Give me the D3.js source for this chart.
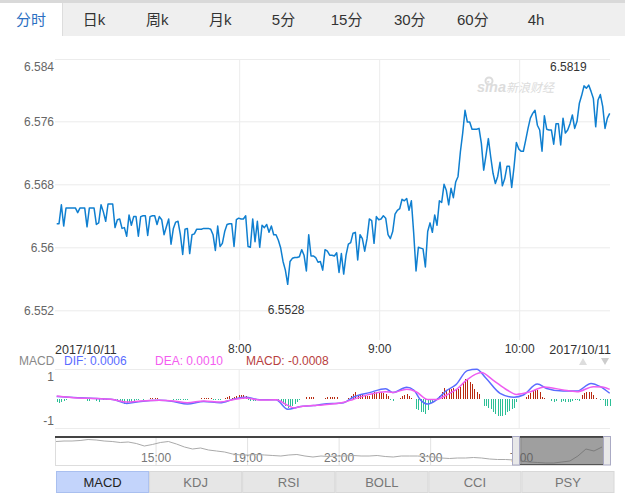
<!DOCTYPE html>
<html>
<head>
<meta charset="utf-8">
<script src="https://cdn.jsdelivr.net/npm/d3@7/dist/d3.min.js"></script>
<style>
  body { margin: 0; background: #fff; }
  svg { display: block; font-family: "Liberation Sans", "Noto Sans CJK SC", sans-serif; }
  .domain { display: none; }
</style>
</head>
<body>
<div id="chart"></div>
<script>
var tabs = ["分时", "日k", "周k", "月k", "5分", "15分", "30分", "60分", "4h"];
var indicators = ["MACD", "KDJ", "RSI", "BOLL", "CCI", "PSY"];

var priceTicks = [6.552, 6.56, 6.568, 6.576, 6.584];
var timeTicks = [78, 138, 198];
var timeLabels = ["8:00", "9:00", "10:00"];
var dateLabel = "2017/10/11";
var maxLabel = "6.5819";
var minLabel = "6.5528";

// one value per minute
var prices = [
  6.5630, 6.5630, 6.5654, 6.5627, 6.5650, 6.5650, 6.5650, 6.5650, 6.5650, 6.5644,
  6.5650, 6.5650, 6.5650, 6.5626, 6.5650, 6.5650, 6.5650, 6.5629, 6.5631, 6.5654,
  6.5645, 6.5633, 6.5655, 6.5655, 6.5655, 6.5625, 6.5635, 6.5636, 6.5624, 6.5625,
  6.5614, 6.5641, 6.5628, 6.5639, 6.5639, 6.5614, 6.5639, 6.5640, 6.5640, 6.5615,
  6.5639, 6.5640, 6.5640, 6.5629, 6.5639, 6.5635, 6.5616, 6.5626, 6.5636, 6.5604,
  6.5624, 6.5632, 6.5633, 6.5616, 6.5591, 6.5623, 6.5624, 6.5592, 6.5616, 6.5617,
  6.5623, 6.5623, 6.5623, 6.5624, 6.5624, 6.5624, 6.5623, 6.5616, 6.5596, 6.5627,
  6.5601, 6.5605, 6.5620, 6.5629, 6.5630, 6.5630, 6.5601, 6.5635, 6.5637, 6.5636,
  6.5636, 6.5640, 6.5601, 6.5600, 6.5636, 6.5607, 6.5633, 6.5600, 6.5628, 6.5625,
  6.5629, 6.5619, 6.5627, 6.5616, 6.5616, 6.5609, 6.5599, 6.5582, 6.5571, 6.5553,
  6.5582, 6.5586, 6.5587, 6.5587, 6.5588, 6.5597, 6.5590, 6.5570, 6.5616, 6.5589,
  6.5589, 6.5587, 6.5581, 6.5582, 6.5571, 6.5597, 6.5595, 6.5590, 6.5590, 6.5589,
  6.5593, 6.5568, 6.5592, 6.5566, 6.5590, 6.5604, 6.5606, 6.5618, 6.5619, 6.5584,
  6.5616, 6.5611, 6.5595, 6.5611, 6.5636, 6.5634, 6.5605, 6.5639, 6.5635, 6.5636,
  6.5640, 6.5637, 6.5616, 6.5611, 6.5620, 6.5642, 6.5647, 6.5649, 6.5661, 6.5659,
  6.5662, 6.5647, 6.5659, 6.5618, 6.5570, 6.5600, 6.5599, 6.5598, 6.5575, 6.5620,
  6.5631, 6.5619, 6.5641, 6.5628, 6.5659, 6.5657, 6.5680, 6.5672, 6.5654, 6.5675,
  6.5663, 6.5683, 6.5690, 6.5721, 6.5745, 6.5774, 6.5759, 6.5759, 6.5750, 6.5750,
  6.5750, 6.5751, 6.5732, 6.5698, 6.5717, 6.5738, 6.5715, 6.5694, 6.5681, 6.5690,
  6.5708, 6.5678, 6.5687, 6.5703, 6.5703, 6.5676, 6.5702, 6.5733, 6.5725, 6.5722,
  6.5722, 6.5736, 6.5751, 6.5764, 6.5770, 6.5774, 6.5755, 6.5749, 6.5722, 6.5767,
  6.5750, 6.5749, 6.5749, 6.5731, 6.5757, 6.5757, 6.5730, 6.5764, 6.5745, 6.5749,
  6.5757, 6.5768, 6.5751, 6.5760, 6.5783, 6.5793, 6.5805, 6.5802, 6.5806, 6.5798,
  6.5789, 6.5753, 6.5787, 6.5794, 6.5779, 6.5751, 6.5764, 6.5770
];

var macdBars = [
  -.14, -.17, -.12, -.11, -.05, 0, 0, 0, 0, 0, 0, 0, 0, -.08, -.08, -.01, 0, -.09, -.12, -.02,
  -.05, -.06, -.01, -.01, -.02, -.05, -.08, -.12, -.2, -.21, -.18, -.15, -.12, -.08,
  -.03, -.03, -.02, -.03, -.02, -.01, .03, .04, .03, .04, .02, .01, 0, -.01, -.01, -.02,
  -.05, -.05, -.04, -.05, -.05, -.04, -.03, -.01, 0, .01, .01, .02, .05, .06, .06, .06, .05,
  -.04, -.05, -.05, -.04, -.02, .05, .09, .14, .06, .09, .15, .17, .18, .17, .14,
  -.06, -.08, -.07, -.08, -.05, -.02, -.01, -.01, 0, 0, -.01, -.03, -.05,
  -.09, -.15, -.23, -.33, -.42, -.38, -.33, -.23, -.12, -.06, -.02, .01, .08, .09, .09, .07,
  .01, 0, .01, .01, .06, .08, .08, .07, .08, .07, .01, .01, -.01, .01, .03,
  .12, .21, .3, .18, .21, .24, .18, .12, .12, .21, .3, .3, .27, .3, .27, .21, .15,
  -.06, -.1, -.02, -.01, .06, .12, .18, .21, .12, .06, .01,
  -.45, -.52, -.58, -.61, -.67, -.48, -.24, -.15, -.06,
  .03, .15, .33, .48, .39, .45, .45, .48, .42, .45, .55, .76, .91, .88, .76, .67, .45, .33, .21,
  -.02, -.33, -.33, -.42, -.45, -.61, -.67, -.76, -.76, -.76, -.73, -.58, -.55, -.45, -.42, -.15,
  -.02, 0, .01, .09, .18, .27, .39, .45, .39, .33, .09, .06, .01, -.01,
  -.08, -.12, -.09, -.02, -.12, -.09, -.15, -.12, -.12, -.09, -.06, -.06, -.09,
  .18, .27, .3, .33, .3, .18, .05, -.01, -.03, -.06, -.3, -.33, -.3
];

var difMinutes = [0, 9, 17, 24, 30, 36, 44, 50, 56, 63, 70, 76, 81, 87, 94, 99, 104, 110, 114, 123, 127, 134, 141, 144, 150, 153, 156, 159, 163, 167, 171, 176, 180, 184, 190, 196, 200, 206, 210, 217, 223, 229, 233, 237];
var difValues = [.11, .06, .02, -.02, -.2, -.11, -.06, -.11, -.23, -.11, -.17, 0, .08, -.03, -.03, -.47, -.35, -.3, -.24, -.17, .08, .29, .47, .29, .53, .41, -.05, -.23, -.02, .38, .64, 1.29, 1.35, .94, .26, .08, .18, .68, .48, .36, .36, .71, .56, .26];

var deaMinutes = [0, 9, 17, 24, 30, 36, 44, 50, 56, 63, 70, 76, 81, 87, 94, 99, 102, 104, 110, 114, 123, 127, 134, 141, 144, 150, 154, 159, 163, 167, 171, 176, 182, 187, 193, 197, 203, 209, 217, 223, 230, 234, 237];
var deaValues = [.14, .05, .02, -.02, -.14, -.09, -.06, -.09, -.17, -.09, -.14, -.02, .05, -.05, -.03, -.29, -.41, -.35, -.3, -.27, -.15, -.02, .21, .33, .3, .44, .33, -.02, -.02, .18, .41, .89, 1.2, .86, .41, .21, .33, .55, .41, .33, .56, .55, .44];

var macdTicks = [1, -1];
var legendNames = ["MACD", "DIF: 0.0006", "DEA: 0.0010", "MACD: -0.0008"];

// overview strip, the whole session
var overview = [
  6.597, 6.598, 6.598, 6.599, 6.601, 6.600, 6.598, 6.597, 6.595, 6.596, 6.593, 6.588, 6.591, 6.595, 6.597, 6.592,
  6.586, 6.582, 6.584, 6.580, 6.578, 6.576, 6.572, 6.570, 6.570, 6.571, 6.570, 6.569, 6.568, 6.570, 6.571, 6.568,
  6.566, 6.568, 6.567, 6.568, 6.568, 6.569, 6.568, 6.568, 6.569, 6.567, 6.566, 6.568, 6.568, 6.568, 6.567, 6.566,
  6.564, 6.563, 6.564, 6.564, 6.565, 6.564, 6.562, 6.561, 6.561, 6.560, 6.558, 6.556, 6.555, 6.554, 6.554, 6.556,
  6.558, 6.568, 6.582, 6.578, 6.586
];
var overviewTickAt = [12.4, 23.8, 35.2, 46.6, 57.9];
var overviewLabels = ["15:00", "19:00", "23:00", "3:00", "7:00"];

var svg = d3.select("#chart").append("svg")
  .attr("width", 625)
  .attr("height", 497);

// tab bar
svg.append("rect").attr("width", 625).attr("height", 3).attr("fill", "#d9d9d9");
svg.append("rect").attr("y", 3).attr("width", 625).attr("height", 33).attr("fill", "#efefef");
svg.append("rect").attr("y", 3).attr("width", 62).attr("height", 33).attr("fill", "#fff");
svg.append("line").attr("x1", 62.5).attr("x2", 62.5).attr("y1", 3).attr("y2", 36).attr("stroke", "#ddd");

var tabX = d3.scalePoint().domain(tabs).range([31, 536]);
svg.selectAll(".tab").data(tabs).enter().append("text")
  .attr("class", "tab")
  .attr("x", function(d) { return tabX(d); })
  .attr("y", 25)
  .attr("text-anchor", "middle")
  .attr("font-size", 15)
  .attr("fill", function(d, i) { return i === 0 ? "#2b6fc2" : "#333"; })
  .text(function(d) { return d; });

// main chart
var x = d3.scaleLinear().domain([0, prices.length - 1]).range([56.7, 609.7]);
var y = d3.scaleLinear().domain([6.552, 6.576]).range([310.3, 121.3]);

var yAxis = d3.axisLeft(y)
  .tickValues(priceTicks)
  .tickSize(-555)
  .tickPadding(1)
  .tickFormat(function(d) { return d === 6.56 ? "6.56" : d3.format(".3f")(d); });

var yG = svg.append("g").attr("transform", "translate(55,0)").call(yAxis);
yG.selectAll("line").attr("stroke", "#ececec");
yG.selectAll("text").attr("font-size", 12).attr("fill", "#666");
// top line sits higher than the price it names, the label stays inside
yG.selectAll(".tick").filter(function(d) { return d === 6.584; })
  .attr("transform", "translate(0,59.5)")
  .select("text").attr("dy", "0.95em");

var xAxis = d3.axisBottom(x)
  .tickValues(timeTicks)
  .tickSize(-281)
  .tickPadding(4)
  .tickFormat(function(d, i) { return timeLabels[i]; });

var xG = svg.append("g").attr("transform", "translate(0.5,340)").call(xAxis);
xG.selectAll("line").attr("stroke", "#ececec");
xG.selectAll("text").attr("font-size", 12).attr("fill", "#333");

svg.append("text").attr("x", 55).attr("y", 354).attr("font-size", 12.5).attr("fill", "#333").text(dateLabel);
svg.append("text").attr("x", 611).attr("y", 354).attr("text-anchor", "end").attr("font-size", 12.5).attr("fill", "#333").text(dateLabel);

// watermark
var mark = svg.append("g").attr("fill", "#dcdcdc");
mark.append("circle").attr("cx", 489).attr("cy", 81).attr("r", 3.5).attr("fill", "none").attr("stroke", "#dcdcdc").attr("stroke-width", 2);
mark.append("text").attr("x", 477).attr("y", 92).attr("font-size", 14.5).attr("font-weight", "bold").attr("font-style", "italic").text("sina");
mark.append("text").attr("x", 506).attr("y", 92).attr("font-size", 12).attr("font-style", "italic").text("新浪财经");

var line = d3.line()
  .x(function(d, i) { return x(i); })
  .y(function(d) { return y(d); });

svg.append("path")
  .datum(prices)
  .attr("d", line)
  .attr("fill", "none")
  .attr("stroke", "#0f7fd0")
  .attr("stroke-width", 1.5)
  .attr("stroke-linejoin", "round");

var hi = d3.max(prices), lo = d3.min(prices);
svg.append("text")
  .attr("x", x(prices.indexOf(hi)) - 2)
  .attr("y", y(hi) - 14)
  .attr("text-anchor", "end")
  .attr("font-size", 12)
  .attr("fill", "#333")
  .text(maxLabel);
svg.append("text")
  .attr("x", x(prices.indexOf(lo)) - 1.5)
  .attr("y", y(lo) + 30)
  .attr("text-anchor", "middle")
  .attr("font-size", 12)
  .attr("fill", "#333")
  .text(minLabel);

// macd legend
var legendX = [19, 64, 155, 246];
var legendColor = ["#888", "#5a6cff", "#f45cf0", "#b84040"];
svg.selectAll(".legend").data(legendNames).enter().append("text")
  .attr("class", "legend")
  .attr("x", function(d, i) { return legendX[i]; })
  .attr("y", 365)
  .attr("font-size", 12)
  .attr("fill", function(d, i) { return legendColor[i]; })
  .text(function(d) { return d; });

svg.append("path").attr("d", "M579,365L583,358L587,365Z").attr("fill", "#ddd");
svg.append("path").attr("d", "M601,358L609,358L605,365Z").attr("fill", "#ccc");

// macd panel
var my = d3.scaleLinear().domain([-1, 1]).range([421, 377]);

svg.append("g").selectAll("line").data([369.5, 428.5]).enter().append("line")
  .attr("x1", 55).attr("x2", 610)
  .attr("y1", function(d) { return d; }).attr("y2", function(d) { return d; })
  .attr("stroke", "#ececec");

svg.append("g").selectAll("line").data(timeTicks).enter().append("line")
  .attr("x1", function(d) { return x(d) + 0.5; }).attr("x2", function(d) { return x(d) + 0.5; })
  .attr("y1", 369).attr("y2", 428)
  .attr("stroke", "#ececec");

svg.selectAll(".mtick").data(macdTicks).enter().append("text")
  .attr("class", "mtick")
  .attr("x", 54)
  .attr("y", function(d) { return my(d) + 4; })
  .attr("text-anchor", "end")
  .attr("font-size", 12)
  .attr("fill", "#666")
  .text(function(d) { return d; });

svg.append("g").attr("shape-rendering", "crispEdges").selectAll("rect").data(macdBars).enter().append("rect")
  .attr("x", function(d, i) { return Math.round(x(i)); })
  .attr("width", 1)
  .attr("y", function(d) { return d > 0 ? my(d) : my(0); })
  .attr("height", function(d) { return Math.abs(my(d) - my(0)); })
  .attr("fill", function(d) { return d > 0 ? "#b82a10" : "#2cbf96"; });

var mline = d3.line()
  .x(function(d) { return x(d[0]); })
  .y(function(d) { return my(d[1]); })
  .curve(d3.curveMonotoneX);

svg.append("path")
  .attr("d", mline(d3.zip(difMinutes, difValues)))
  .attr("fill", "none").attr("stroke", "#5a6cff").attr("stroke-width", 1.5);
svg.append("path")
  .attr("d", mline(d3.zip(deaMinutes, deaValues)))
  .attr("fill", "none").attr("stroke", "#ee5cf0").attr("stroke-width", 1.5);

// overview strip
var ox = d3.scaleLinear().domain([0, overview.length - 1]).range([56, 602]);
var oy = d3.scaleLinear().domain([6.55, 6.606]).range([465, 437]);

var oAxis = d3.axisBottom(ox)
  .tickValues(overviewTickAt)
  .tickSize(-28)
  .tickPadding(-11.5)
  .tickFormat(function(d, i) { return overviewLabels[i]; });

var oG = svg.append("g").attr("transform", "translate(0,465)").call(oAxis);
oG.selectAll("line").attr("stroke", "#e2e2e2");
oG.selectAll("text").attr("font-size", 12).attr("fill", "#777");

svg.append("line").attr("x1", 55.5).attr("x2", 55.5).attr("y1", 437).attr("y2", 465.5).attr("stroke", "#ddd");
svg.append("line").attr("x1", 55).attr("x2", 603).attr("y1", 465.5).attr("y2", 465.5).attr("stroke", "#ddd");

svg.append("path")
  .datum(overview)
  .attr("d", d3.line().x(function(d, i) { return ox(i); }).y(function(d) { return oy(d); }))
  .attr("fill", "none")
  .attr("stroke", "#aaa")
  .attr("stroke-width", 1);

svg.append("rect").attr("x", 55).attr("y", 436).attr("width", 548).attr("height", 2).attr("fill", "#444");
svg.append("rect").attr("x", 520).attr("y", 437).attr("width", 83).attr("height", 28).attr("fill", "#5a5a5a").attr("fill-opacity", 0.58);
svg.append("rect").attr("x", 520).attr("y", 464).attr("width", 83).attr("height", 1).attr("fill", "#555");
svg.append("rect").attr("x", 512.5).attr("y", 436.5).attr("width", 7).attr("height", 28.5).attr("fill", "#e8e8e8").attr("stroke", "#aaaac4");
svg.append("rect").attr("x", 603.5).attr("y", 436.5).attr("width", 7).attr("height", 28.5).attr("fill", "#e8e8e8").attr("stroke", "#aaaac4");

// indicator buttons
var bx = d3.scaleBand().domain(indicators).range([56, 614.5]);
var btn = svg.selectAll(".btn").data(indicators).enter().append("g")
  .attr("class", "btn")
  .attr("transform", function(d) { return "translate(" + bx(d) + ",471)"; });
btn.append("rect")
  .attr("x", 0.5).attr("y", 0.5)
  .attr("width", bx.bandwidth() - 1)
  .attr("height", 21)
  .attr("fill", function(d, i) { return i === 0 ? "#c3d4fb" : "#e6e6e6"; })
  .attr("stroke", function(d, i) { return i === 0 ? "#a9bfef" : "#d8d8d8"; });
btn.append("text")
  .attr("x", bx.bandwidth() / 2)
  .attr("y", 16)
  .attr("text-anchor", "middle")
  .attr("font-size", 13)
  .attr("fill", function(d, i) { return i === 0 ? "#222" : "#777"; })
  .text(function(d) { return d; });
</script>
</body>
</html>
